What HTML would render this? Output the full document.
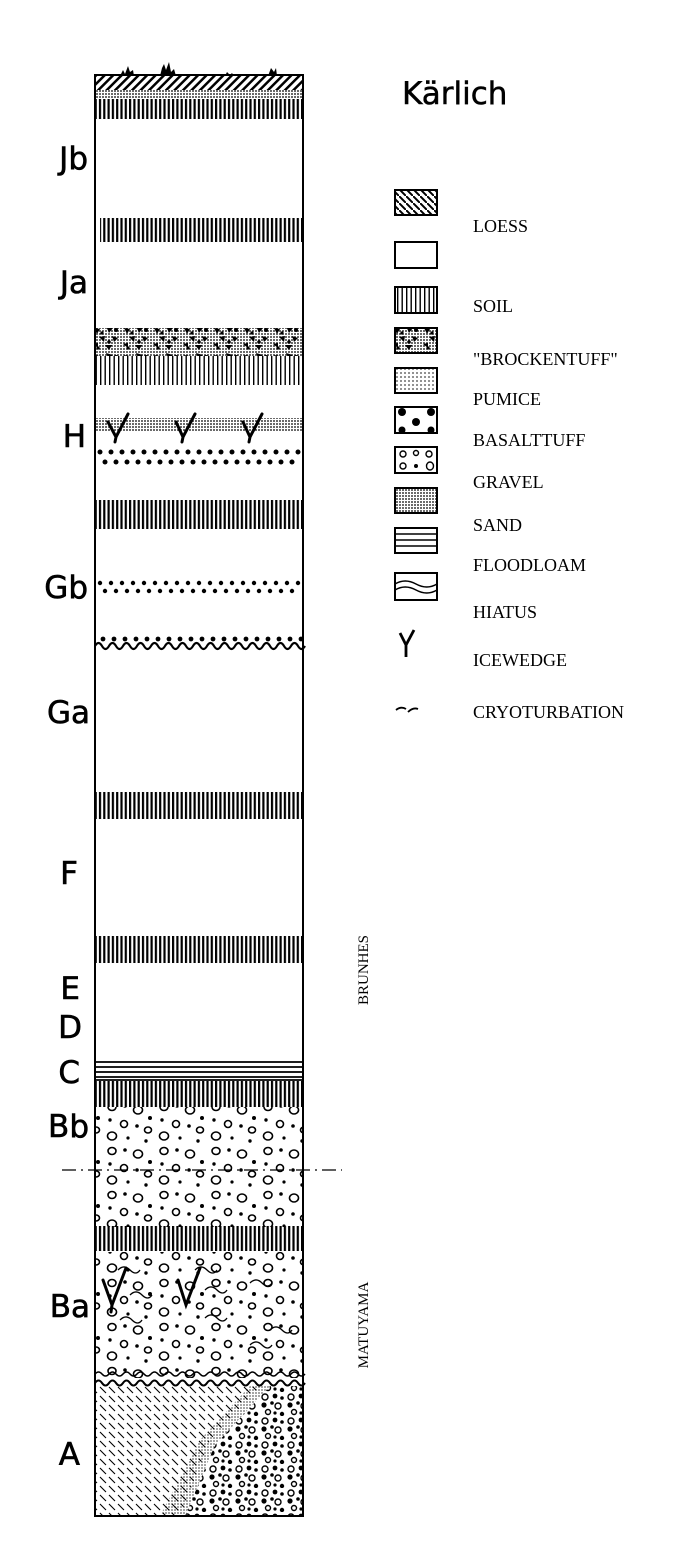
<!DOCTYPE html>
<html><head><meta charset="utf-8"><style>
html,body{margin:0;padding:0;background:#fff;}
svg{display:block;}
.lab{font-family:"DejaVu Sans","Liberation Sans",sans-serif;font-size:31px;fill:#000;stroke:#000;stroke-width:0.6;text-anchor:end;}
.leg{font-family:"Liberation Serif",serif;font-size:18px;fill:#000;}
</style></head><body>
<svg width="700" height="1568" viewBox="0 0 700 1568" xmlns="http://www.w3.org/2000/svg">
<defs>
<pattern id="soil" width="4.3" height="10" patternUnits="userSpaceOnUse"><rect x="0" y="0" width="2.2" height="10" fill="#000"/></pattern>
<pattern id="soilL" width="4.5" height="10" patternUnits="userSpaceOnUse"><rect x="1" y="0" width="1.4" height="10" fill="#000"/></pattern>
<pattern id="hatch" width="6" height="6" patternUnits="userSpaceOnUse" patternTransform="rotate(45)"><rect width="2.5" height="6" fill="#000"/></pattern>
<pattern id="loess" width="9" height="9" patternUnits="userSpaceOnUse"><path d="M1 1 L7 7" stroke="#000" stroke-width="1.1"/></pattern>
<pattern id="loessL" width="7" height="7" patternUnits="userSpaceOnUse"><path d="M0 0 L7 7" stroke="#000" stroke-width="2"/></pattern>
<pattern id="sand" width="3" height="3" patternUnits="userSpaceOnUse"><circle cx="1" cy="1" r="0.9" fill="#000"/></pattern>
<pattern id="pum" width="4" height="4" patternUnits="userSpaceOnUse"><circle cx="1" cy="1" r="0.9" fill="#444"/></pattern>
<pattern id="brock" width="30" height="27" patternUnits="userSpaceOnUse">
<rect width="30" height="27" fill="url(#sand)"/>
<path d="M4 4 l6 1 -3 5z M16 2 l7 2 -4 5z M9 13 l6 -1 -1 6z M22 12 l6 2 -4 4z M3 20 l5 -1 0 5z M15 21 l7 0 -3 5z" fill="#000"/>
<circle cx="26" cy="6" r="2"/><circle cx="12" cy="9" r="1.6"/><circle cx="19" cy="18" r="1.8"/><circle cx="8" cy="24" r="1.6"/>
</pattern>
<pattern id="grav" width="52" height="44" patternUnits="userSpaceOnUse">
<g fill="none" stroke="#000" stroke-width="1.6">
<ellipse cx="8" cy="7" rx="4" ry="3.5"/><ellipse cx="34" cy="10" rx="4.5" ry="4"/><ellipse cx="20" cy="24" rx="3.5" ry="3.5"/><ellipse cx="44" cy="30" rx="3.5" ry="3"/><ellipse cx="8" cy="36" rx="4.5" ry="4"/></g>
<g fill="#000"><circle cx="21" cy="6" r="1.8"/><circle cx="46" cy="18" r="2"/><circle cx="6" cy="20" r="1.7"/><circle cx="33" cy="26" r="1.8"/><circle cx="24" cy="38" r="1.6"/><circle cx="42" cy="41" r="1.7"/></g>
</pattern>
<pattern id="gravD" width="26" height="24" patternUnits="userSpaceOnUse">
<g fill="none" stroke="#000" stroke-width="1.4"><circle cx="5" cy="5" r="3"/><circle cx="18" cy="14" r="3"/><circle cx="8" cy="20" r="2.5"/></g>
<g fill="#000"><circle cx="15" cy="4" r="2.4"/><circle cx="22" cy="6" r="1.8"/><circle cx="4" cy="13" r="2.6"/><circle cx="12" cy="11" r="1.8"/><circle cx="22" cy="22" r="2.2"/><circle cx="15" cy="21" r="1.6"/></g>
</pattern>
<clipPath id="col"><rect x="95" y="75" width="208" height="1440"/></clipPath>
</defs>

<g clip-path="url(#col)">
<rect x="95" y="75" width="208" height="15" fill="url(#hatch)"/>
<rect x="95" y="89" width="208" height="10" fill="url(#sand)"/>
<rect x="96" y="99" width="206" height="20" fill="url(#soil)"/>
<rect x="100" y="218" width="202" height="24" fill="url(#soil)"/>
<rect x="95" y="328" width="208" height="28" fill="url(#brock)"/>
<rect x="96" y="356" width="206" height="29" fill="url(#soilL)"/>
<rect x="95" y="418" width="208" height="14" fill="url(#sand)"/>
<rect x="96" y="500" width="206" height="29" fill="url(#soil)"/>
<rect x="96" y="792" width="208" height="27" fill="url(#soil)"/>
<rect x="96" y="936" width="208" height="27" fill="url(#soil)"/>
<g stroke="#000" stroke-width="1.8">
<line x1="95" y1="1062" x2="303" y2="1062"/><line x1="95" y1="1067" x2="303" y2="1067"/><line x1="95" y1="1072" x2="303" y2="1072"/><line x1="95" y1="1077" x2="303" y2="1077"/><line x1="95" y1="1080" x2="303" y2="1080"/></g>
<rect x="96" y="1081" width="208" height="26" fill="url(#soil)"/>
<rect x="95" y="1107" width="208" height="120" fill="url(#grav)"/>
<rect x="96" y="1226" width="208" height="25" fill="url(#soil)"/>
<rect x="95" y="1252" width="208" height="126" fill="url(#grav)"/>
<rect x="95" y="1386" width="208" height="130" fill="url(#loess)"/>
<path d="M180 1516 L210 1440 L260 1386 L303 1386 L303 1516Z" fill="#fff"/>
<path d="M160 1516 L200 1440 L250 1386 L270 1386 L215 1445 L185 1516Z" fill="url(#sand)" opacity="0.6"/>
<path d="M185 1516 L215 1445 L270 1386 L303 1386 L303 1516Z" fill="url(#gravD)"/>
</g>

<g fill="#000">
<g transform="translate(0,452)">
<circle cx="100" cy="0" r="2.5"/><circle cx="111" cy="0" r="2.5"/><circle cx="122" cy="0" r="2.5"/><circle cx="133" cy="0" r="2.5"/><circle cx="144" cy="0" r="2.5"/><circle cx="155" cy="0" r="2.5"/><circle cx="166" cy="0" r="2.5"/><circle cx="177" cy="0" r="2.5"/><circle cx="188" cy="0" r="2.5"/><circle cx="199" cy="0" r="2.5"/><circle cx="210" cy="0" r="2.5"/><circle cx="221" cy="0" r="2.5"/><circle cx="232" cy="0" r="2.5"/><circle cx="243" cy="0" r="2.5"/><circle cx="254" cy="0" r="2.5"/><circle cx="265" cy="0" r="2.5"/><circle cx="276" cy="0" r="2.5"/><circle cx="287" cy="0" r="2.5"/><circle cx="298" cy="0" r="2.5"/></g>
<g transform="translate(5,462)">
<circle cx="100" cy="0" r="2.5"/><circle cx="111" cy="0" r="2.5"/><circle cx="122" cy="0" r="2.5"/><circle cx="133" cy="0" r="2.5"/><circle cx="144" cy="0" r="2.5"/><circle cx="155" cy="0" r="2.5"/><circle cx="166" cy="0" r="2.5"/><circle cx="177" cy="0" r="2.5"/><circle cx="188" cy="0" r="2.5"/><circle cx="199" cy="0" r="2.5"/><circle cx="210" cy="0" r="2.5"/><circle cx="221" cy="0" r="2.5"/><circle cx="232" cy="0" r="2.5"/><circle cx="243" cy="0" r="2.5"/><circle cx="254" cy="0" r="2.5"/><circle cx="265" cy="0" r="2.5"/><circle cx="276" cy="0" r="2.5"/><circle cx="287" cy="0" r="2.5"/></g>
<g transform="translate(0,583)">
<circle cx="100" cy="0" r="2.2"/><circle cx="111" cy="0" r="2.2"/><circle cx="122" cy="0" r="2.2"/><circle cx="133" cy="0" r="2.2"/><circle cx="144" cy="0" r="2.2"/><circle cx="155" cy="0" r="2.2"/><circle cx="166" cy="0" r="2.2"/><circle cx="177" cy="0" r="2.2"/><circle cx="188" cy="0" r="2.2"/><circle cx="199" cy="0" r="2.2"/><circle cx="210" cy="0" r="2.2"/><circle cx="221" cy="0" r="2.2"/><circle cx="232" cy="0" r="2.2"/><circle cx="243" cy="0" r="2.2"/><circle cx="254" cy="0" r="2.2"/><circle cx="265" cy="0" r="2.2"/><circle cx="276" cy="0" r="2.2"/><circle cx="287" cy="0" r="2.2"/><circle cx="298" cy="0" r="2.2"/></g>
<g transform="translate(5,591)">
<circle cx="100" cy="0" r="2.2"/><circle cx="111" cy="0" r="2.2"/><circle cx="122" cy="0" r="2.2"/><circle cx="133" cy="0" r="2.2"/><circle cx="144" cy="0" r="2.2"/><circle cx="155" cy="0" r="2.2"/><circle cx="166" cy="0" r="2.2"/><circle cx="177" cy="0" r="2.2"/><circle cx="188" cy="0" r="2.2"/><circle cx="199" cy="0" r="2.2"/><circle cx="210" cy="0" r="2.2"/><circle cx="221" cy="0" r="2.2"/><circle cx="232" cy="0" r="2.2"/><circle cx="243" cy="0" r="2.2"/><circle cx="254" cy="0" r="2.2"/><circle cx="265" cy="0" r="2.2"/><circle cx="276" cy="0" r="2.2"/><circle cx="287" cy="0" r="2.2"/></g>
<g transform="translate(3,639)">
<circle cx="100" cy="0" r="2.4"/><circle cx="111" cy="0" r="2.4"/><circle cx="122" cy="0" r="2.4"/><circle cx="133" cy="0" r="2.4"/><circle cx="144" cy="0" r="2.4"/><circle cx="155" cy="0" r="2.4"/><circle cx="166" cy="0" r="2.4"/><circle cx="177" cy="0" r="2.4"/><circle cx="188" cy="0" r="2.4"/><circle cx="199" cy="0" r="2.4"/><circle cx="210" cy="0" r="2.4"/><circle cx="221" cy="0" r="2.4"/><circle cx="232" cy="0" r="2.4"/><circle cx="243" cy="0" r="2.4"/><circle cx="254" cy="0" r="2.4"/><circle cx="265" cy="0" r="2.4"/><circle cx="276" cy="0" r="2.4"/><circle cx="287" cy="0" r="2.4"/><circle cx="298" cy="0" r="2.4"/></g>
</g>
<path d="M95 646 q3.5 -6 7 0 t7 0 t7 0 t7 0 t7 0 t7 0 t7 0 t7 0 t7 0 t7 0 t7 0 t7 0 t7 0 t7 0 t7 0 t7 0 t7 0 t7 0 t7 0 t7 0 t7 0 t7 0 t7 0 t7 0 t7 0 t7 0 t7 0 t7 0 t7 0 t7 0" fill="none" stroke="#000" stroke-width="2.2"/>
<path d="M95 1383 q3.5 -5 7 0 t7 0 t7 0 t7 0 t7 0 t7 0 t7 0 t7 0 t7 0 t7 0 t7 0 t7 0 t7 0 t7 0 t7 0 t7 0 t7 0 t7 0 t7 0 t7 0 t7 0 t7 0 t7 0 t7 0 t7 0 t7 0 t7 0 t7 0 t7 0 t7 0" fill="none" stroke="#000" stroke-width="2"/>
<path d="M95 1374 q3.5 -4 7 0 t7 0 t7 0 t7 0 t7 0 t7 0 t7 0 t7 0 t7 0 t7 0 t7 0 t7 0 t7 0 t7 0 t7 0 t7 0 t7 0 t7 0 t7 0 t7 0 t7 0 t7 0 t7 0 t7 0 t7 0 t7 0 t7 0 t7 0 t7 0 t7 0" fill="none" stroke="#000" stroke-width="1.5"/>
<g fill="none" stroke="#000" stroke-width="3" stroke-linecap="round">
<path d="M108 422 L116 437 L128 414 M116 437 L115 442"/>
<path d="M176 422 L183 437 L195 414 M183 437 L182 442"/>
<path d="M243 422 L250 437 L262 414 M250 437 L249 442"/>
<path d="M103 1280 L112 1305 L126 1268 M112 1305 L111 1312"/>
<path d="M178 1280 L186 1305 L200 1268"/>
</g>
<g fill="none" stroke="#000" stroke-width="1.3">
<path d="M118 1270 q6 -6 12 0 t10 0"/><path d="M195 1270 q6 -6 12 0 t10 0"/><path d="M130 1295 q6 -6 12 0 t10 0"/><path d="M205 1290 q6 -6 12 0 t10 0"/><path d="M250 1283 q6 -6 12 0 t10 0"/><path d="M120 1320 q6 -6 12 0 t10 0"/><path d="M205 1318 q6 -6 12 0 t10 0"/><path d="M270 1330 q6 -6 12 0 t10 0"/><path d="M250 1345 q6 -6 12 0 t10 0"/>
</g>
<g fill="#000">
<path d="M120 76 l3 -6 2 4 3 -8 2 6 3 -2 1 6z"/>
<path d="M160 76 l2 -8 2 -4 2 6 3 -8 2 10 3 -3 2 7z"/>
<path d="M225 76 l2 -4 3 3 2 -2 2 3z"/>
<path d="M268 76 l3 -8 3 4 2 -4 1 8z"/>
</g>
<rect x="95" y="75" width="208" height="1441" fill="none" stroke="#000" stroke-width="2"/>
<line x1="62" y1="1170" x2="342" y2="1170" stroke="#000" stroke-width="1.3" stroke-dasharray="14,5,2,5"/>

<text class="lab" x="88" y="169">Jb</text>
<text class="lab" x="88" y="293">Ja</text>
<text class="lab" x="86" y="447">H</text>
<text class="lab" x="88" y="598">Gb</text>
<text class="lab" x="90" y="723">Ga</text>
<text class="lab" x="78" y="884">F</text>
<text class="lab" x="80" y="999">E</text>
<text class="lab" x="82" y="1038">D</text>
<text class="lab" x="80" y="1083">C</text>
<text class="lab" x="89" y="1137">Bb</text>
<text class="lab" x="90" y="1317">Ba</text>
<text class="lab" x="80" y="1465">A</text>

<text x="402" y="104" style="font-family:'DejaVu Sans','Liberation Sans',sans-serif;font-size:31px;stroke:#000;stroke-width:0.5">Kärlich</text>

<g stroke="#000" stroke-width="2">
<rect x="395" y="190" width="42" height="25" fill="url(#loessL)"/>
<rect x="395" y="242" width="42" height="26" fill="#fff"/>
<rect x="395" y="287" width="42" height="26" fill="url(#soilL)"/>
<rect x="395" y="328" width="42" height="25" fill="url(#brock)"/>
<rect x="395" y="368" width="42" height="25" fill="url(#pum)"/>
<rect x="395" y="407" width="42" height="26" fill="#fff"/>
<rect x="395" y="447" width="42" height="26" fill="#fff"/>
<rect x="395" y="488" width="42" height="25" fill="url(#sand)"/>
<rect x="395" y="528" width="42" height="25" fill="#fff"/>
<rect x="395" y="573" width="42" height="27" fill="#fff"/>
</g>
<g fill="#000"><circle cx="402" cy="412" r="4"/><circle cx="431" cy="412" r="4"/><circle cx="416" cy="422" r="4"/><circle cx="402" cy="430" r="3.5"/><circle cx="431" cy="430" r="3.5"/></g>
<g fill="none" stroke="#000" stroke-width="1.4"><circle cx="403" cy="454" r="3"/><circle cx="416" cy="453" r="2.5"/><circle cx="429" cy="454" r="3"/><circle cx="403" cy="466" r="3"/><ellipse cx="430" cy="466" rx="3.5" ry="4"/></g>
<circle cx="416" cy="466" r="2" fill="#000"/>
<g stroke="#000" stroke-width="1.5"><line x1="395" y1="534" x2="437" y2="534"/><line x1="395" y1="540" x2="437" y2="540"/><line x1="395" y1="546" x2="437" y2="546"/></g>
<g fill="none" stroke="#000" stroke-width="1.5"><path d="M395 584 q10 -6 21 0 t21 0"/><path d="M395 590 q10 -6 21 0 t21 0"/></g>
<path d="M400 633 L406 645 L414 630 M406 645 L406 657" fill="none" stroke="#000" stroke-width="2.8"/>
<path d="M396 710 q5 -4 10 -1 M408 712 q5 -5 10 -3" fill="none" stroke="#000" stroke-width="1.8"/>

<text class="leg" x="473" y="232">LOESS</text>
<text class="leg" x="473" y="312">SOIL</text>
<text class="leg" x="473" y="365">"BROCKENTUFF"</text>
<text class="leg" x="473" y="405">PUMICE</text>
<text class="leg" x="473" y="446">BASALTTUFF</text>
<text class="leg" x="473" y="488">GRAVEL</text>
<text class="leg" x="473" y="531">SAND</text>
<text class="leg" x="473" y="571">FLOODLOAM</text>
<text class="leg" x="473" y="618">HIATUS</text>
<text class="leg" x="473" y="666">ICEWEDGE</text>
<text class="leg" x="473" y="718">CRYOTURBATION</text>

<text class="leg" transform="translate(368,970) rotate(-90)" text-anchor="middle" style="font-size:15px">BRUNHES</text>
<text class="leg" transform="translate(368,1325) rotate(-90)" text-anchor="middle" style="font-size:15px">MATUYAMA</text>
</svg>
</body></html>
